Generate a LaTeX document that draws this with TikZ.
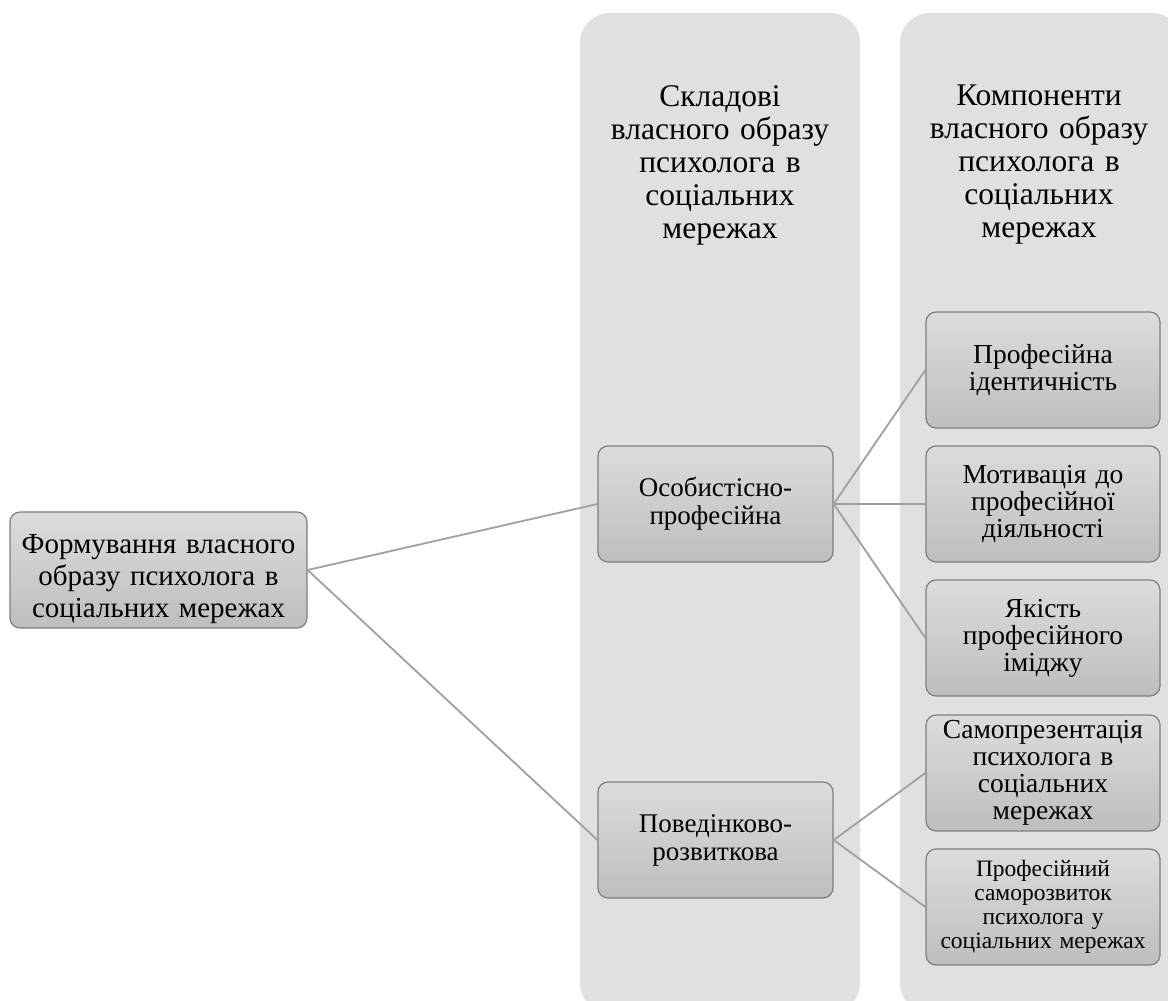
\documentclass[tikz,border=0pt]{standalone}
\usepackage{fontspec}
\setmainfont{Liberation Serif}
\definecolor{colfill}{HTML}{E0E0E0}
\definecolor{boxtop}{HTML}{DCDCDC}
\definecolor{boxbot}{HTML}{BEBEBE}
\definecolor{boxline}{HTML}{7F7F7F}
\definecolor{linkline}{HTML}{A0A0A0}
\tikzset{
  column/.style={fill=colfill, draw=none, rounded corners=30pt},
  card/.style={rounded corners=10pt, draw=boxline, line width=1.2pt,
    top color=boxtop, bottom color=boxbot, align=center,
    inner sep=2pt, text=black},
  link/.style={draw=linkline, line width=1.8pt},
  header/.style={align=center, font=\fontsize{31.5}{33}\selectfont, text width=275pt}
}
\begin{document}
\begin{tikzpicture}[x=1pt, y=-1pt]
  \useasboundingbox (0,0) rectangle (1168,1001);
  \fill[white] (0,0) rectangle (1168,1001);
  % background columns
  \path[column] (580,13) rectangle (860,1013);
  \path[column] (900,13) rectangle (1182,1013);
  \node[header] (h1) at (720,165) {Складові\\власного образу\\психолога в\\соціальних\\мережах};
  \node[header] (h2) at (1039,165) {Компоненти\\власного образу\\психолога в\\соціальних\\мережах};
  % root box and its caption
  \node[card, minimum width=297pt, minimum height=116pt] (root) at (158.5,570) {};
  \node[align=center, text width=292pt, font=\fontsize{29}{32}\selectfont]
        (roottext) at ([yshift=-9pt]root.center)
        {Формування власного\\образу психолога в\\соціальних мережах};
  % second level
  \node[card, minimum width=235pt, minimum height=116pt, text width=230pt,
        font=\fontsize{27}{28}\selectfont] (op) at (715.5,504)
        {Особистісно-\\професійна};
  \node[card, minimum width=235pt, minimum height=116pt, text width=230pt,
        font=\fontsize{27}{28}\selectfont] (pr) at (715.5,840)
        {Поведінково-\\розвиткова};
  % third level
  \tikzset{leaf/.style={card, minimum width=234pt, minimum height=116pt,
        text width=230pt, font=\fontsize{27.5}{27}\selectfont}}
  \node[leaf] (c1) at (1043,370) {Професійна\\ідентичність};
  \node[leaf] (c2) at (1043,504) {Мотивація до\\професійної\\діяльності};
  \node[leaf] (c3) at (1043,638) {Якість\\професійного\\іміджу};
  \node[leaf] (c4) at (1043,773) {Самопрезентація\\психолога в\\соціальних\\мережах};
  \node[leaf, font=\fontsize{23.5}{24}\selectfont] (c5) at (1043,907)
        {Професійний\\саморозвиток\\психолога у\\соціальних мережах};
  % connectors
  \draw[link] (root.east) -- (op.west);
  \draw[link] (root.east) -- (pr.west);
  \draw[link] (op.east) -- (c1.west);
  \draw[link] (op.east) -- (c2.west);
  \draw[link] (op.east) -- (c3.west);
  \draw[link] (pr.east) -- (c4.west);
  \draw[link] (pr.east) -- (c5.west);
\end{tikzpicture}
\end{document}
